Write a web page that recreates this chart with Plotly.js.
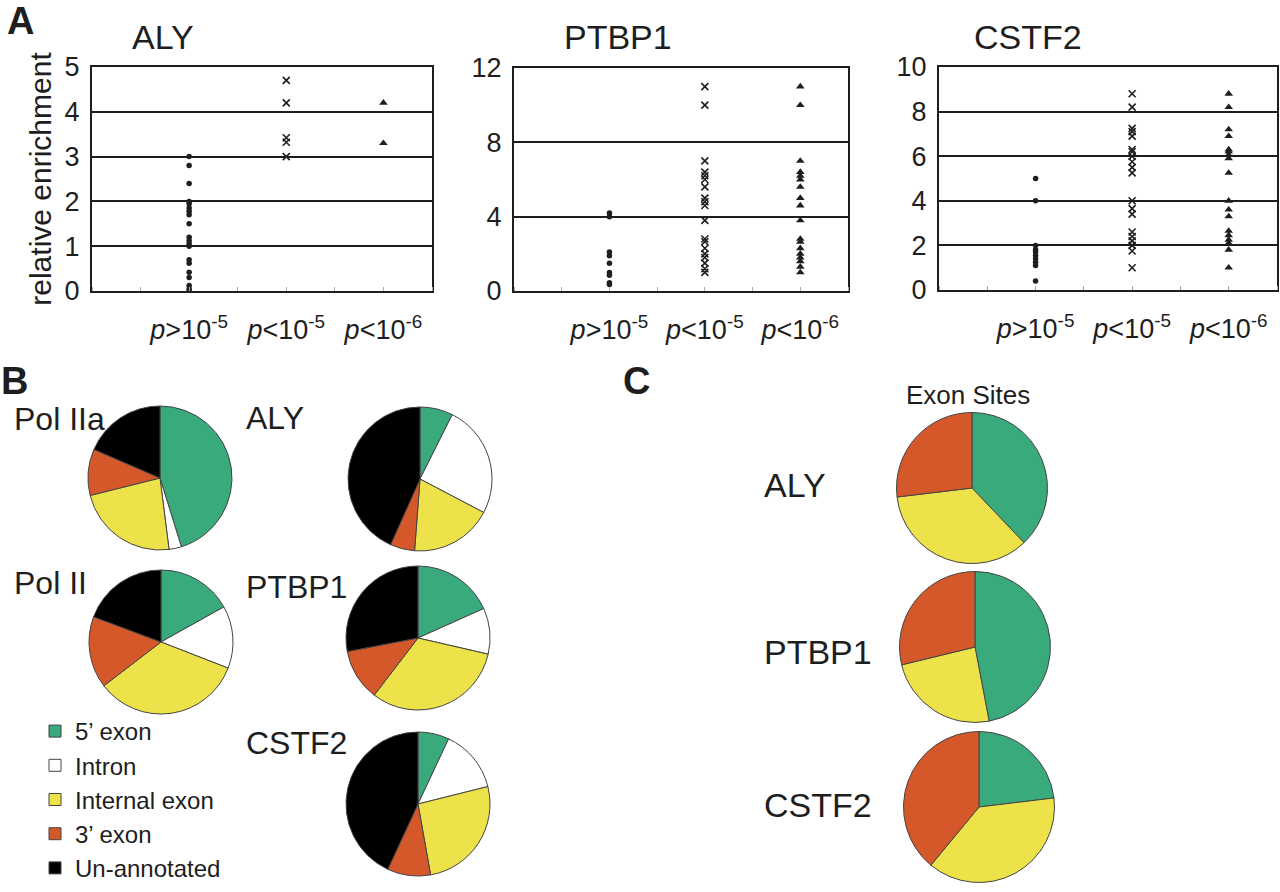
<!DOCTYPE html>
<html><head><meta charset="utf-8">
<script src="https://cdn.plot.ly/plotly-3.0.1.min.js"></script>
<style>html,body{margin:0;padding:0;background:#fff}#chart{width:1280px;height:892px}</style>
</head><body><div id="chart"></div>
<script>
// ---------- Panel A data ----------
const pLabels = ['<i>p</i>&gt;10<sup>-5</sup>', '<i>p</i>&lt;10<sup>-5</sup>', '<i>p</i>&lt;10<sup>-6</sup>'];
const alyLow  = [3.0, 2.8, 2.4, 2.0, 1.95, 1.85, 1.78, 1.7, 1.5, 1.2, 1.12, 1.05, 1.0, 0.7, 0.62, 0.42, 0.3, 0.12, 0.05, 0.0];
const alyMid  = [4.7, 4.2, 3.42, 3.32, 3.0];
const alyHigh = [4.2, 3.3];
const ptbLow  = [4.2, 4.0, 2.1, 1.9, 1.5, 1.0, 0.85, 0.45, 0.35];
const ptbMid  = [11, 10, 7, 6.4, 6.2, 6.0, 5.6, 5.0, 4.8, 4.6, 3.8, 2.8, 2.65, 2.3, 2.0, 1.8, 1.5, 1.2, 1.0];
const ptbHigh = [11, 10, 7, 6.4, 6.2, 6.0, 5.6, 5.0, 4.6, 3.8, 2.8, 2.65, 2.3, 2.0, 1.8, 1.6, 1.3, 1.0];
const cstLow  = [5.0, 4.0, 2.0, 1.8, 1.7, 1.55, 1.4, 1.25, 1.1, 0.4];
const cstMid  = [8.8, 8.2, 7.25, 7.1, 6.9, 6.3, 6.2, 6.0, 5.75, 5.5, 5.25, 4.0, 3.65, 3.4, 2.6, 2.4, 2.2, 2.0, 1.75, 1.0];
const cstHigh = [8.8, 8.2, 7.2, 6.9, 6.3, 6.2, 6.05, 5.9, 5.25, 4.0, 3.6, 3.3, 2.65, 2.45, 2.25, 2.1, 1.8, 1.0];

// ---------- Panel B data ----------
const regionLabels = ["5\u2019 exon", 'Intron', 'Internal exon', "3\u2019 exon", 'Un-annotated'];
const regionColors = ['#38aa7b', '#ffffff', '#eee24b', '#d5582a', '#000000'];
const polIIa  = [45.2, 2.8, 23.1, 10.4, 18.5];
const polII   = [16.9, 14.0, 33.7, 16.1, 19.3];
const alyB    = [7.4, 25.3, 18.5, 5.5, 43.3];
const ptbB    = [18.3, 10.3, 31.8, 11.6, 28.0];
const cstB    = [7.0, 14.1, 26.1, 9.7, 43.1];

// ---------- Panel C data ----------
const exonLabels = ["5\u2019 exon", 'Internal exon', "3\u2019 exon"];
const exonColors = ['#38aa7b', '#eee24b', '#d5582a'];
const alyC = [37.9, 35.2, 26.9];
const ptbC = [47.0, 24.2, 28.8];
const cstC = [23.1, 37.9, 39.0];

const W = 1280, H = 892;
const px = x => x / W, py = y => 1 - y / H;
function dom(cx, cy, d) { return {x: [px(cx - d / 2), px(cx + d / 2)], y: [py(cy + d / 2), py(cy - d / 2)]}; }
const FONT = 'Liberation Sans, Arial, Helvetica, sans-serif';
const INK = '#1e1e1e';

const traces = [];
function col(vals, cat, sym, ax) {
  const m = {color: INK, size: 5.5, symbol: sym};
  if (sym === 'x-thin') { m.size = 7; m.line = {width: 1.6, color: INK}; }
  if (sym === 'triangle-up') { m.size = 7.5; }
  traces.push({type: 'scatter', mode: 'markers', x: vals.map(() => cat), y: vals,
    xaxis: 'x' + ax, yaxis: 'y' + ax, marker: m, showlegend: false, hoverinfo: 'y'});
}
[[alyLow, alyMid, alyHigh, ''], [ptbLow, ptbMid, ptbHigh, '2'], [cstLow, cstMid, cstHigh, '3']].forEach(g => {
  col(g[0], 1, 'circle', g[3]); col(g[1], 2, 'x-thin', g[3]); col(g[2], 3, 'triangle-up', g[3]);
});

function pie(vals, labels, colors, d, show) {
  traces.push({type: 'pie', values: vals, labels: labels, sort: false, direction: 'clockwise', rotation: 0,
    marker: {colors: colors, line: {color: '#444', width: 1}}, textinfo: 'none', textposition: 'none',
    hoverinfo: 'label+percent', domain: d, showlegend: show});
}
const dB = 144, dC = 151;
pie(polIIa, regionLabels, regionColors, dom(160, 478, dB), true);
pie(alyB, regionLabels, regionColors, dom(420, 479, dB), false);
pie(polII, regionLabels, regionColors, dom(161, 642, dB), false);
pie(ptbB, regionLabels, regionColors, dom(418, 638, dB), false);
pie(cstB, regionLabels, regionColors, dom(418, 804, dB), false);
pie(alyC, exonLabels, exonColors, dom(972, 488, dC), false);
pie(ptbC, exonLabels, exonColors, dom(975, 647, dC), false);
pie(cstC, exonLabels, exonColors, dom(979, 807, dC), false);

function xax(d0, d1, anchor) {
  return {domain: [px(d0), px(d1)], range: [0, 3.5], tickvals: [1, 2, 3], ticktext: pLabels, ticks: '',
    showline: true, mirror: true, linewidth: 2, linecolor: INK, showgrid: false, zeroline: false,
    tickfont: {size: 27, color: INK}, ticklabelstandoff: 14, anchor: anchor, fixedrange: true,
    minor: {tick0: 0, dtick: 0.5, ticks: 'inside', ticklen: 4, tickcolor: '#aaa', tickwidth: 1, showgrid: false}};
}
function yax(d0, d1, max, dt, anchor, title) {
  const a = {domain: [py(d1), py(d0)], range: [0, max], dtick: dt, tick0: 0, showline: true, mirror: true,
    linewidth: 2, linecolor: INK, showgrid: true, gridcolor: INK, gridwidth: 2, zeroline: false, ticks: '',
    tickfont: {size: 27, color: INK}, anchor: anchor, fixedrange: true, ticklabelstandoff: 5};
  if (title) a.title = {text: title, font: {size: 30, color: INK}, standoff: 4};
  return a;
}

function ann(text, x, y, size, opts) {
  return Object.assign({text: text, x: px(x), y: py(y), xref: 'paper', yref: 'paper', showarrow: false,
    xanchor: 'center', yanchor: 'middle', font: {size: size, color: INK, family: FONT}}, opts || {});
}
const annotations = [
  ann('<b>A</b>', 20, 21, 38), ann('<b>B</b>', 14, 381, 38), ann('<b>C</b>', 636, 381, 38),
  ann('ALY', 163, 37, 34), ann('PTBP1', 618, 37, 34), ann('CSTF2', 1028, 37, 34),
  ann('Pol IIa', 12, 419, 32, {xanchor: 'left'}), ann('ALY', 244, 418, 32, {xanchor: 'left'}),
  ann('Pol II', 12, 583, 32, {xanchor: 'left'}), ann('PTBP1', 244, 587, 32, {xanchor: 'left'}),
  ann('CSTF2', 244, 743, 32, {xanchor: 'left'}),
  ann('Exon Sites', 968, 395, 26),
  ann('ALY', 762, 485, 34, {xanchor: 'left'}), ann('PTBP1', 762, 652, 34, {xanchor: 'left'}),
  ann('CSTF2', 762, 805, 34, {xanchor: 'left'})
];

const layout = {
  width: W, height: H, margin: {l: 0, r: 0, t: 0, b: 0}, paper_bgcolor: '#fff', plot_bgcolor: '#fff',
  font: {family: FONT, color: INK},
  xaxis: xax(92, 432, 'y'), yaxis: yax(67, 291, 5, 1, 'x', 'relative enrichment'),
  xaxis2: xax(514, 848, 'y2'), yaxis2: yax(68, 291, 12, 4, 'x2'),
  xaxis3: xax(939, 1277, 'y3'), yaxis3: yax(67, 290, 10, 2, 'x3'),
  showlegend: true,
  legend: {x: px(35), y: py(709), xanchor: 'left', yanchor: 'top', font: {size: 24, color: INK},
    bgcolor: 'rgba(0,0,0,0)', traceorder: 'normal', itemclick: false, itemdoubleclick: false},
  annotations: annotations
};
Plotly.newPlot('chart', traces, layout, {displayModeBar: false, staticPlot: true});
</script></body></html>
